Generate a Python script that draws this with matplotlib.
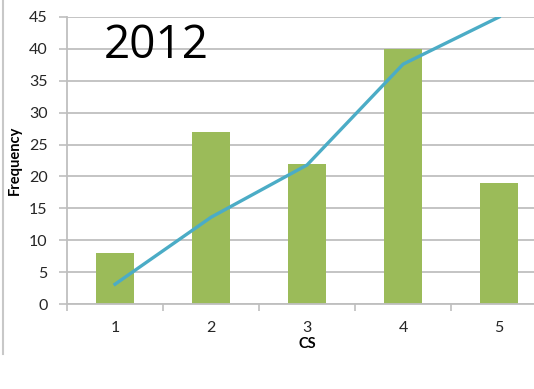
import numpy as np
import matplotlib
matplotlib.use("Agg")
from matplotlib import pyplot as plt
from matplotlib.lines import Line2D

#=================================================
#DATA
#=================================================
cs_classes = [1, 2, 3, 4, 5]
frequency = [8, 27, 22, 40, 19]
trend = [3.1, 13.6, 21.8, 37.6, 45]
y_ticks = [0, 5, 10, 15, 20, 25, 30, 35, 40, 45]

bar_color = '#9bbb59'
line_color = '#4bacc6'
grid_color = '#bfbfbf'

plt.rcParams['font.family'] = ['Lato', 'DejaVu Sans']

fig = plt.figure(figsize=(5.34, 3.89), dpi=100)
ax = fig.add_axes([0.1255, 0.2185, 0.899, 0.7378])

ax.bar(cs_classes, frequency, width=0.4, color=bar_color, zorder=2)
ax.plot(cs_classes, trend, color=line_color, lw=2.4, zorder=3, clip_on=True)

ax.set_xlim(0.5, 5.5)
ax.set_ylim(0, 45)
ax.set_yticks(y_ticks)
ax.yaxis.grid(True, color=grid_color, lw=1.3, zorder=0)
ax.set_axisbelow(True)

# category labels at centres, tick marks between categories
ax.set_xticks(cs_classes)
ax.set_xticks(np.arange(0.5, 6.0, 1.0), minor=True)
ax.tick_params(axis='x', which='major', length=0, pad=12, labelsize=11.5, colors='#262626')
ax.tick_params(axis='x', which='minor', length=5, width=1.2, color=grid_color)
ax.tick_params(axis='y', length=6, width=1.2, color=grid_color, pad=8, labelsize=11.5, colors='#262626')

for side in ['top', 'right']:
    ax.spines[side].set_visible(False)
for side in ['left', 'bottom']:
    ax.spines[side].set_color(grid_color)
    ax.spines[side].set_linewidth(1.3)

ax.set_ylabel('Frequency', fontsize=10.5, fontweight='bold', labelpad=5)
ax.set_xlabel('CS', fontsize=10.5, fontweight='bold', labelpad=1.5)

fig.text(0.195, 0.85, '2012', fontsize=33, color='black', family=['Open Sans', 'DejaVu Sans'])

# chart area border on the left
fig.add_artist(Line2D([0.005, 0.005], [0.09, 1.0], color='#c8c8c8', lw=1.5, transform=fig.transFigure))

fig.savefig('out.png', dpi=100)
